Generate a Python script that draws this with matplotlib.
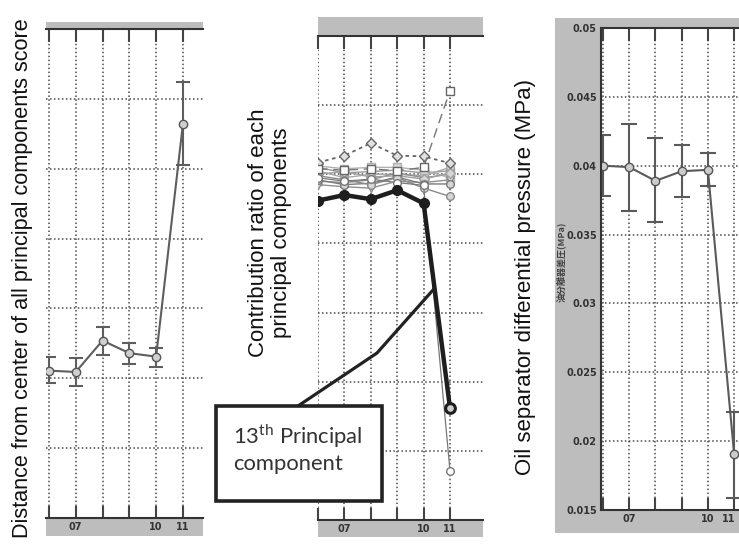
import numpy as np
import matplotlib
matplotlib.use("Agg")
import matplotlib.pyplot as plt
from matplotlib.patches import Rectangle
from matplotlib.lines import Line2D
from matplotlib.transforms import ScaledTranslation

W, H = 739, 546

months = [6, 7, 8, 9, 10, 11]
month_labels = ["", "07", "", "", "10", "11"]

# left panel: distance from centre of all PC scores
dist_mean = [2.11, 2.09, 2.54, 2.36, 2.31, 5.64]
dist_upper = [2.30, 2.29, 2.74, 2.50, 2.43, 6.24]
dist_lower = [1.93, 1.89, 2.33, 2.21, 2.16, 5.06]

# middle panel: contribution ratio of each principal component
pc13 = [4.62, 4.70, 4.64, 4.77, 4.58, 1.62]
pc_diamond = [5.17, 5.27, 5.45, 5.27, 5.26, 5.16]
pc_square = [5.08, 5.06, 5.08, 5.05, 5.10, 6.21]
pc_drop = [4.95, 4.90, 4.93, 4.88, 4.84, 0.71]
pc_circle = [4.98, 4.92, 4.85, 4.95, 4.80, 4.68]
pc_e = [5.10, 5.02, 5.04, 5.06, 5.02, 5.05]
pc_f = [5.05, 4.95, 5.00, 5.00, 4.98, 5.10]
pc_g = [4.90, 4.88, 4.92, 5.02, 4.95, 5.00]
pc_h = [5.12, 5.08, 5.10, 5.10, 5.06, 4.95]
pc_i = [4.85, 4.82, 4.80, 4.90, 4.88, 4.92]
pc_j = [5.00, 5.04, 4.96, 4.98, 4.93, 5.02]
pc_k = [4.92, 4.85, 4.87, 4.96, 4.86, 4.86]

# right panel: oil separator differential pressure
press_mean = [0.0400, 0.0399, 0.0389, 0.0396, 0.0397, 0.0191]
press_upper = [0.0422, 0.0430, 0.0420, 0.0415, 0.0409, 0.0221]
press_lower = [0.0378, 0.0367, 0.0359, 0.0377, 0.0385, 0.0159]
press_ticks = [0.015, 0.02, 0.025, 0.03, 0.035, 0.04, 0.045, 0.05]
press_ticklabels = ["0.015", "0.02", "0.025", "0.03", "0.035", "0.04", "0.045", "0.05"]

plt.rcParams["font.family"] = ["Liberation Sans", "DejaVu Sans"]
plt.rcParams["mathtext.fontset"] = "custom"
plt.rcParams["mathtext.rm"] = "Lato"

BAND = "#bdbdbd"
GRID = "#4a4a4a"
TICKFONT = dict(family=["Liberation Sans Narrow", "DejaVu Sans"], size=7,
                weight="bold", color="#333333")


def box(l, t, r, b):
    return [l / W, 1 - b / H, (r - l) / W, (b - t) / H]


def band(fig, l, t, r, b):
    fig.patches.append(Rectangle((l / W, 1 - b / H), (r - l) / W, (b - t) / H,
                                 transform=fig.transFigure, facecolor=BAND,
                                 edgecolor="none", zorder=-5))


def style_axes(ax, left_spine=False):
    for side in ["left", "right"]:
        ax.spines[side].set_visible(False)
    if left_spine:
        ax.spines["left"].set_visible(True)
        ax.spines["left"].set_color("#333333")
        ax.spines["left"].set_linewidth(1.5)
    for side in ["top", "bottom"]:
        ax.spines[side].set_color("#333333")
        ax.spines[side].set_linewidth(1.5)
    ax.set_xticks(months)
    ax.set_xticklabels(month_labels, fontdict=TICKFONT)
    ax.tick_params(axis="x", direction="in", length=9, width=1.5, color="#444444",
                   pad=3, top=True)
    ax.grid(True, color=GRID, linestyle=(0, (1, 1.6)), linewidth=1.1)
    ax.set_axisbelow(True)


fig = plt.figure(figsize=(W / 100, H / 100), dpi=100)

# ---- left panel
ax1 = fig.add_axes(box(46, 29, 203, 518))
band(fig, 46, 22, 203, 29)
band(fig, 46, 518, 203, 536)
err1 = [np.array(dist_mean) - np.array(dist_lower), np.array(dist_upper) - np.array(dist_mean)]
ax1.errorbar(months, dist_mean, yerr=err1, color="#5e5e5e", lw=1.5, marker="o",
             ms=6, mfc="#cfcfcf", mec="#555555", capsize=5, elinewidth=1.5, capthick=1.5)
ax1.set_xlim(5.89, 11.75)
ax1.set_ylim(0, 7)
ax1.set_yticks([1, 2, 3, 4, 5, 6])
ax1.tick_params(axis="y", left=False, labelleft=False)
style_axes(ax1)

# ---- middle panel
ax2 = fig.add_axes(box(318, 36, 483, 520))
band(fig, 318, 17, 483, 36)
band(fig, 318, 520, 483, 537)
grey_series = [
    (pc_e, "s", "-", "#999999"),
    (pc_f, "o", "-", "#a8a8a8"),
    (pc_g, "^", "-", "#8c8c8c"),
    (pc_h, "s", "-", "#b0b0b0"),
    (pc_i, "v", "-", "#909090"),
    (pc_j, "D", "-", "#a0a0a0"),
    (pc_k, "o", "-", "#7a7a7a"),
    (pc_circle, "o", "-", "#8a8a8a"),
]
for vals, mk, ls, col in grey_series:
    ax2.plot(months, vals, color=col, ls=ls, lw=1.0, marker=mk, ms=5.5,
             mfc="#d6d6d6", mec=col)
ax2.plot(months, pc_drop, color="#777777", lw=0.9, marker="o", ms=5.5,
         mfc="white", mec="#777777")
ax2.plot(months, pc_diamond, color="#666666", ls=(0, (2, 2)), lw=1.3, marker="D",
         ms=5.5, mfc="#e0e0e0", mec="#666666")
ax2.plot(months, pc_square, color="#777777", ls=(0, (7, 4)), lw=1.0, marker="s",
         ms=6, mfc="white", mec="#666666")
ax2.plot(months, pc13, color="#1e1e1e", lw=3.2, marker="o", ms=7,
         mfc="#1e1e1e", mec="#1e1e1e", zorder=5)
ax2.plot(months[-1:], pc13[-1:], ls="none", marker="o", ms=7, mfc="#cfcfcf",
         mec="#1e1e1e", mew=2.2, zorder=6)
ax2.set_xlim(6, 12.25)
ax2.set_ylim(0, 7)
ax2.set_yticks([1, 2, 3, 4, 5, 6])
ax2.tick_params(axis="y", left=False, labelleft=False)
style_axes(ax2)

# ---- right panel
band(fig, 555, 18, 760, 533)
ax3 = fig.add_axes(box(601, 28, 760, 510))
err3 = [np.array(press_mean) - np.array(press_lower), np.array(press_upper) - np.array(press_mean)]
ax3.errorbar(months, press_mean, yerr=err3, color="#5a5a5a", lw=1.5, marker="o",
             ms=6, mfc="#cccccc", mec="#555555", capsize=5.5, elinewidth=1.5, capthick=1.5)
ax3.set_xlim(5.92, 11.99)
ax3.set_ylim(0.015, 0.05)
ax3.set_yticks(press_ticks)
ax3.set_yticklabels(press_ticklabels, fontdict=TICKFONT)
ax3.tick_params(axis="y", direction="in", length=0, pad=3)
style_axes(ax3, left_spine=True)
ax3.set_facecolor("white")
# last month label sits at the picture edge; nudge it in so it is not cut
last = ax3.get_xticklabels()[-1]
last.set_transform(last.get_transform() + ScaledTranslation(-4 / 72, 0, fig.dpi_scale_trans))

# ---- axis titles
fig.text(23 / W, 1 - 278 / H, "Distance from center of all principal components score",
         rotation=90, ha="center", va="center", fontsize=15.6, color="#111111")
fig.text(270 / W, 1 - 233 / H, "Contribution ratio of each\nprincipal components",
         rotation=90, ha="center", va="center", multialignment="center",
         fontsize=16, linespacing=1.15, color="#111111")
fig.text(526 / W, 1 - 277 / H, "Oil separator differential pressure (MPa)",
         rotation=90, ha="center", va="center", fontsize=16, color="#111111")
fig.text(561 / W, 1 - 262 / H, "油分離器差圧(MPa)", rotation=90, ha="center",
         va="center", fontsize=6.5, weight="bold", color="#444444",
         family=["Noto Sans CJK JP", "DejaVu Sans"])

# ---- callout for the 13th component
fig.add_artist(Line2D([298 / W, 377 / W, 433 / W], [1 - 406 / H, 1 - 353 / H, 1 - 290 / H],
                      transform=fig.transFigure, color="#222222", lw=2.3, zorder=10))
fig.patches.append(Rectangle((216 / W, 1 - 501 / H), 166 / W, 95 / H,
                             transform=fig.transFigure, facecolor="white",
                             edgecolor="#222222", lw=2.6, zorder=11))
fig.text(233 / W, 1 - 448 / H, "13$^{\\mathrm{th}}$ Principal\ncomponent",
         ha="left", va="center", fontsize=15.8, family="Lato", color="#333333",
         linespacing=1.25, zorder=12)

fig.savefig("out.png", dpi=100)
